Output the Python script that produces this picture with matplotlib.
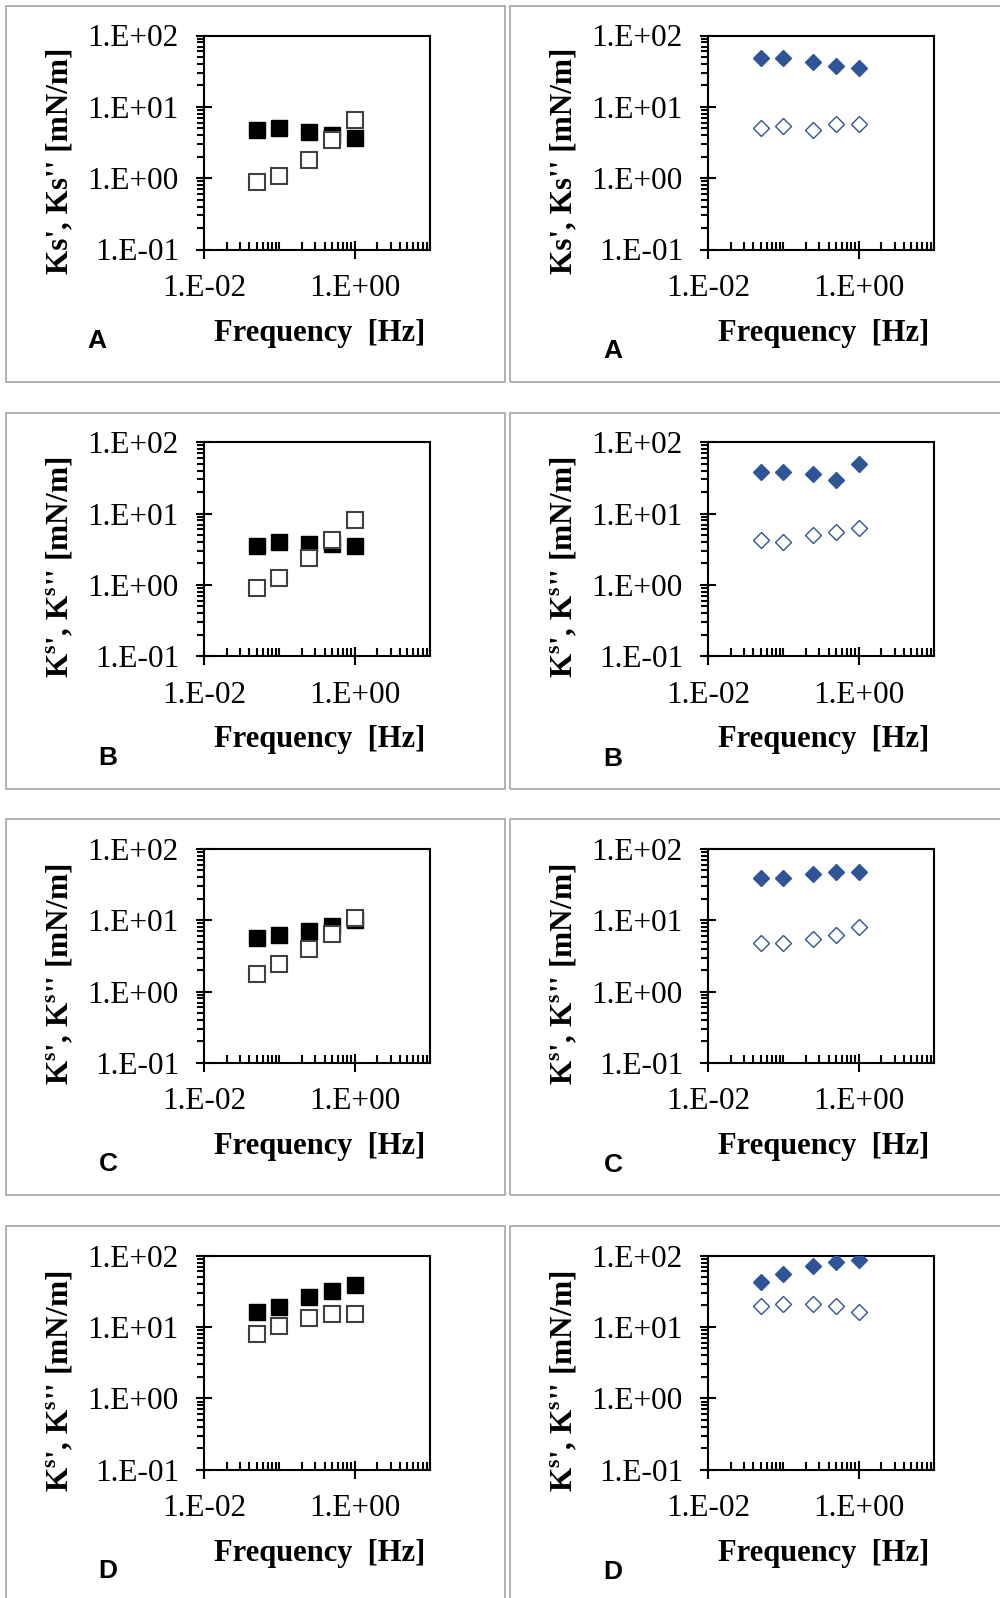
import numpy as np
import matplotlib
matplotlib.use('Agg')
import matplotlib.pyplot as plt
from matplotlib.patches import Rectangle
from matplotlib.ticker import FixedLocator, FixedFormatter, NullFormatter

plt.rcParams['font.family'] = ['Liberation Serif', 'DejaVu Serif']
plt.rcParams['mathtext.fontset'] = 'custom'
plt.rcParams['mathtext.rm'] = 'Liberation Serif'
plt.rcParams['mathtext.bf'] = 'Liberation Serif:bold'

# data
freq = [0.05, 0.1, 0.25, 0.5, 1.0]
panel_letters = ['A', 'B', 'C', 'D']

# left column: squares (filled = Ks', open = Ks'')
A_sq_filled = [4.7, 5.06, 4.45, 4.0, 3.6]
A_sq_open = [0.89, 1.07, 1.79, 3.48, 6.6]
B_sq_filled = [3.48, 4.0, 3.79, 3.76, 3.48]
B_sq_open = [0.91, 1.25, 2.39, 4.27, 8.24]
C_sq_filled = [5.6, 6.3, 7.16, 8.24, 10.0]
C_sq_open = [1.77, 2.44, 4.0, 6.36, 10.7]
D_sq_filled = [16.1, 19.3, 26.7, 32.3, 39.2]
D_sq_open = [7.85, 10.2, 13.3, 15.0, 15.3]

# right column: diamonds
A_di_filled = [47.9, 47.9, 42.3, 37.2, 34.8]
A_di_open = [5.12, 5.35, 4.8, 5.7, 5.7]
B_di_filled = [38.5, 38.5, 36.1, 29.3, 49.8]
B_di_open = [4.22, 3.95, 5.07, 5.47, 6.23]
C_di_filled = [38.5, 38.5, 43.8, 47.1, 47.1]
C_di_open = [4.81, 4.81, 5.53, 6.3, 8.05]
D_di_filled = [42.3, 55.3, 72.3, 81.5, 86.9]
D_di_open = [19.5, 21.1, 21.1, 19.5, 16.1]

squares = [(A_sq_filled, A_sq_open), (B_sq_filled, B_sq_open),
           (C_sq_filled, C_sq_open), (D_sq_filled, D_sq_open)]
diamonds = [(A_di_filled, A_di_open), (B_di_filled, B_di_open),
            (C_di_filled, C_di_open), (D_di_filled, D_di_open)]

ylabels = ["Ks', Ks'' [mN/m]",
           r"K$^{\mathbf{s}}$', K$^{\mathbf{s}}$'' [mN/m]",
           r"K$^{\mathbf{s}}$', K$^{\mathbf{s}}$'' [mN/m]",
           r"K$^{\mathbf{s}}$', K$^{\mathbf{s}}$'' [mN/m]"]

xtick_vals = [1e-2, 1e0]
xtick_labels = ['1.E-02', '1.E+00']
ytick_vals = [1e-1, 1e0, 1e1, 1e2]
ytick_labels = ['1.E-01', '1.E+00', '1.E+01', '1.E+02']

W, H = 1000, 1598
blue = '#2F5597'

fig = plt.figure(figsize=(W / 100, H / 100), dpi=100)


def fx(x):
    return x / W


def fy(y):
    return 1 - y / H


def style_axes(ax):
    ax.set_xscale('log')
    ax.set_yscale('log')
    ax.set_xlim(1e-2, 1e1)
    ax.set_ylim(1e-1, 1e2)
    for sp in ax.spines.values():
        sp.set_linewidth(1.5)
    # ticks
    xminor = [k * 10.0 ** n for n in (-2, -1, 0) for k in range(1, 10)] + [10.0]
    xminor = [v for v in xminor if v not in xtick_vals]
    yminor = [k * 10.0 ** n for n in (-1, 0, 1) for k in range(2, 10)]
    ax.xaxis.set_major_locator(FixedLocator(xtick_vals))
    ax.xaxis.set_major_formatter(FixedFormatter(xtick_labels))
    ax.xaxis.set_minor_locator(FixedLocator(xminor))
    ax.xaxis.set_minor_formatter(NullFormatter())
    ax.yaxis.set_major_locator(FixedLocator(ytick_vals))
    ax.yaxis.set_major_formatter(FixedFormatter(ytick_labels))
    ax.yaxis.set_minor_locator(FixedLocator(yminor))
    ax.yaxis.set_minor_formatter(NullFormatter())
    ax.tick_params(axis='x', which='major', direction='inout', length=13,
                   width=1.5, labelsize=22.5, pad=11)
    ax.tick_params(axis='x', which='minor', direction='in', length=5.5, width=1.5)
    ax.tick_params(axis='y', which='major', direction='inout', length=12,
                   width=1.5, labelsize=22.5, pad=12)
    ax.tick_params(axis='y', which='minor', direction='out', length=5, width=1.5)
    ax.tick_params(top=False, right=False, which='both')


row_step = 406.7

for i in range(4):
    dy = row_step * i

    # panel frames
    for x0, x1 in [(6, 505), (510, 1010)]:
        fig.patches.append(Rectangle((fx(x0), fy(382 + dy)), fx(x1 - x0), (382 - 6) / H,
                                     transform=fig.transFigure, fill=False,
                                     edgecolor='#A6A6A6', linewidth=1.2))

    for col, x_left in enumerate([204, 708]):
        ax = fig.add_axes([fx(x_left), fy(249.5 + dy), fx(226), 214 / H])
        style_axes(ax)
        if col == 0:
            filled, opened = squares[i]
            ax.plot(freq, filled, 's', color='black', markersize=11.5, zorder=3)
            ax.plot(freq, opened, 's', markerfacecolor='white',
                    markeredgecolor='#404040', markeredgewidth=1.5,
                    markersize=11.5, zorder=4)
        else:
            filled, opened = diamonds[i]
            ax.plot(freq, filled, 'D', color=blue, markersize=8.3, zorder=3)
            ax.plot(freq, opened, 'D', markerfacecolor='white',
                    markeredgecolor=blue, markeredgewidth=1.0,
                    markersize=8.0, zorder=4)

        # axis titles
        fig.text(fx(x_left - 144), fy(161 + dy), ylabels[i], rotation=90,
                 fontsize=22.5, fontweight='bold', ha='center', va='center')
        fig.text(fx(x_left + 116), fy(333 + dy), 'Frequency  [Hz]',
                 fontsize=22, fontweight='bold', ha='center', va='center')

        # panel letter
        if i == 0:
            lx, ly = (97, 341) if col == 0 else (613, 351)
        else:
            lx, ly = (108, 351) if col == 0 else (613, 352)
        fig.text(fx(lx), fy(ly + dy), panel_letters[i],
                 fontsize=19, fontweight='bold', family='Liberation Sans',
                 ha='center', va='center')

fig.savefig('out.png', dpi=100)
